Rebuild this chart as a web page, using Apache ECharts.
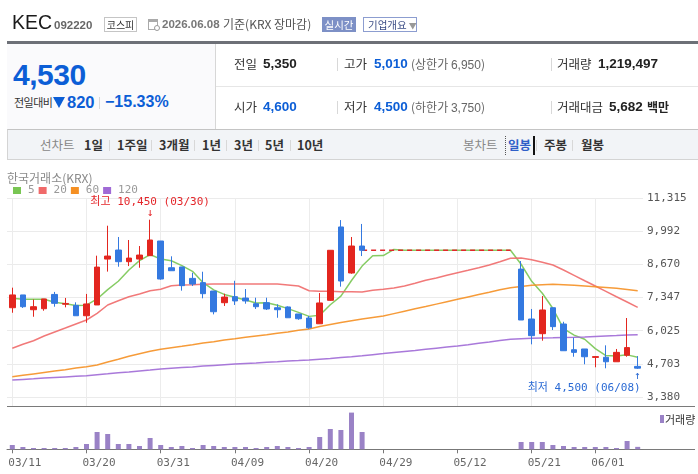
<!DOCTYPE html>
<html><head><meta charset="utf-8">
<script src="https://cdn.jsdelivr.net/npm/echarts@6/dist/echarts.min.js"></script>
<style>
html,body{margin:0;padding:0;background:#fff;}
#wrap{position:relative;width:698px;height:474px;overflow:hidden;font-family:"Noto Sans CJK KR","Noto Sans",sans-serif;color:#333;}
#chart{position:absolute;left:0;top:0;width:698px;height:474px;}
.a{position:absolute;white-space:nowrap;}
.n{font-family:"Liberation Sans",Arial,sans-serif;}
.b{font-weight:bold;}
.blue{color:#0c5ed6;}
.lab{font-size:12.5px;line-height:16px;color:#333;}
.val{font-size:13.5px;line-height:16px;font-weight:bold;color:#222;}
.sub{font-size:12px;line-height:16px;color:#666;}
.vsep{position:absolute;width:1px;background:#d8d8d8;}
.tb{font-size:12.5px;line-height:16px;top:137px;font-weight:bold;color:#333;}
.tbg{font-size:12.5px;line-height:16px;top:137px;color:#888;}
</style></head><body>
<div id="wrap">
<div id="chart"></div>

<!-- header -->
<div class="a n" style="left:12px;top:12px;font-size:19.5px;line-height:20px;color:#1a1a1a;">KEC</div>
<div class="a n b" style="left:54px;top:19px;font-size:11.5px;line-height:12px;color:#666;">092220</div>
<div class="a" style="left:104px;top:17px;width:33px;height:15px;box-sizing:border-box;border:1px solid #c5c5c5;font-size:10px;line-height:13px;text-align:center;color:#333;">코스피</div>
<div class="a" style="left:148px;top:19px;width:10px;height:11px;box-sizing:border-box;border:1px solid #aaa;border-top:3px solid #aaa;"></div>
<div class="a" style="left:154px;top:25px;width:6px;height:6px;box-sizing:border-box;border:1px solid #999;border-radius:50%;background:#fff;"></div>
<div class="a n b" style="left:162px;top:17px;font-size:11.5px;line-height:14px;color:#777;">2026.06.08</div>
<div class="a" style="left:223px;top:16px;font-size:12px;line-height:16px;color:#555;">기준(KRX 장마감)</div>
<div class="a" style="left:322px;top:17px;width:34px;height:15px;background:#7d90c6;color:#fff;font-size:10.5px;line-height:15px;text-align:center;">실시간</div>
<div class="a" style="left:363px;top:17px;width:54px;height:15px;box-sizing:border-box;border:1px solid #8c9dd0;color:#3d4e86;font-size:10.5px;line-height:13px;padding-left:4px;">기업개요<span style="color:#999;font-size:8px;margin-left:2px;">▼</span></div>

<div class="a" style="left:7px;top:41px;width:691px;height:3px;background:#6d7077;"></div>

<!-- left panel -->
<div class="a" style="left:7px;top:44px;width:208px;height:85px;background:#fafafc;border-right:1px solid #d7d7d7;"></div>
<div class="a n b blue" style="left:13px;top:60px;font-size:30px;line-height:30px;letter-spacing:-0.5px;">4,530</div>
<div class="a" style="left:14px;top:95px;font-size:11px;line-height:14px;color:#333;letter-spacing:-0.5px;">전일대비</div>
<div class="a" style="left:53px;top:97px;width:0;height:0;border-left:6.5px solid transparent;border-right:6.5px solid transparent;border-top:11px solid #0c5ed6;"></div>
<div class="a n b blue" style="left:67px;top:93px;font-size:16.5px;line-height:18px;">820</div>
<div class="vsep" style="left:99px;top:97px;height:12px;"></div>
<div class="a n b blue" style="left:105px;top:93px;font-size:16px;line-height:18px;">−15.33%</div>

<!-- table -->
<div class="a" style="left:216px;top:86px;width:482px;height:1px;background:#e6e6e6;"></div>
<div class="a lab" style="left:234px;top:56px;">전일</div>
<div class="a n val" style="left:263px;top:56px;">5,350</div>
<div class="vsep" style="left:337px;top:58px;height:13px;"></div>
<div class="a lab" style="left:344px;top:56px;">고가</div>
<div class="a n val blue" style="left:374px;top:56px;color:#0c5ed6;">5,010</div>
<div class="a sub" style="left:411px;top:56px;">(상한가 <span class="n">6,950</span>)</div>
<div class="vsep" style="left:551px;top:58px;height:13px;"></div>
<div class="a lab" style="left:557px;top:56px;">거래량</div>
<div class="a n val" style="left:598px;top:56px;">1,219,497</div>

<div class="a lab" style="left:234px;top:99px;">시가</div>
<div class="a n val" style="left:263px;top:99px;color:#0c5ed6;">4,600</div>
<div class="vsep" style="left:337px;top:101px;height:13px;"></div>
<div class="a lab" style="left:344px;top:99px;">저가</div>
<div class="a n val" style="left:374px;top:99px;color:#0c5ed6;">4,500</div>
<div class="a sub" style="left:411px;top:99px;">(하한가 <span class="n">3,750</span>)</div>
<div class="vsep" style="left:551px;top:101px;height:13px;"></div>
<div class="a lab" style="left:557px;top:99px;">거래대금</div>
<div class="a n val" style="left:609px;top:99px;">5,682</div>
<div class="a lab" style="left:647px;top:99px;font-weight:bold;color:#222;font-size:12px;">백만</div>

<!-- toolbar -->
<div class="a" style="left:7px;top:129px;width:691px;height:31px;box-sizing:border-box;background:#f2f4f7;border-top:1px solid #c4c4c4;border-bottom:1px solid #d4d4d4;border-left:1px solid #d4d4d4;"></div>
<div class="a tbg" style="left:40px;">선차트</div>
<div class="a tb" style="left:84px;">1일</div>
<div class="vsep" style="left:109px;top:140px;height:11px;"></div>
<div class="a tb" style="left:117px;">1주일</div>
<div class="vsep" style="left:151px;top:140px;height:11px;"></div>
<div class="a tb" style="left:159px;">3개월</div>
<div class="vsep" style="left:194px;top:140px;height:11px;"></div>
<div class="a tb" style="left:202px;">1년</div>
<div class="vsep" style="left:226px;top:140px;height:11px;"></div>
<div class="a tb" style="left:234px;">3년</div>
<div class="vsep" style="left:258px;top:140px;height:11px;"></div>
<div class="a tb" style="left:265px;">5년</div>
<div class="vsep" style="left:290px;top:140px;height:11px;"></div>
<div class="a tb" style="left:297px;">10년</div>

<div class="a tbg" style="left:463px;">봉차트</div>
<div class="a" style="left:505px;top:136px;width:27px;height:19px;border-left:1px dotted #555;border-right:2px solid #111;"></div>
<div class="a tb" style="left:508px;color:#2f5fc8;">일봉</div>
<div class="vsep" style="left:536px;top:140px;height:11px;"></div>
<div class="a tb" style="left:544px;">주봉</div>
<div class="vsep" style="left:572px;top:140px;height:11px;"></div>
<div class="a tb" style="left:581px;">월봉</div>

<!-- chart titles -->
<div class="a" style="left:7px;top:171px;font-size:12px;line-height:14px;color:#8a8a8a;">한국거래소(KRX)</div>
<div class="a" style="left:660px;top:415px;width:3.5px;height:8px;background:#9a82c6;"></div>
<div class="a" style="left:665px;top:412px;font-size:11px;line-height:14px;color:#333;">거래량</div>
</div>

<script>
// ---- data ----
const dates = ['03/11','03/12','03/13','03/16','03/17','03/18','03/19','03/20','03/23','03/24',
 '03/25','03/26','03/27','03/30','03/31','04/01','04/02','04/03','04/06','04/07',
 '04/08','04/09','04/10','04/13','04/14','04/15','04/16','04/17','04/20','04/21',
 '04/22','04/23','04/24','04/27','04/28','04/29','04/30','05/04','05/06','05/07',
 '05/08','05/11','05/12','05/13','05/14','05/15','05/18','05/19','05/20','05/21',
 '05/22','05/26','05/27','05/28','05/29','06/01','06/02','06/04','06/05','06/08'];
const tickDates = ['03/11','03/20','03/31','04/09','04/20','04/29','05/12','05/21','06/01'];
const yTickLabels = ['3,380','4,703','6,025','7,347','8,670','9,992','11,315'];
const N = null;
const opens  = [6940,7450,6860,6900,7470,7080,7035,6620,7050,8880, 9240,8775,8880,9015,9600,8535,8565,8110,7940,7605,
 7140,7380,7325,7100,7140,6940,6970,6690,6530,6300, 7235,10160,8325,9400,N,N,N,N,N,N, N,N,N,N,N,N,N,N,8480,6490,
 5905,6940,6290,5265,5295,4960,4965,4785,5045,4600];
const highs  = [7740,7450,7270,7290,7570,7330,7155,7490,9015,10210, 9760,9640,9400,10450,9600,8990,8565,8335,8375,7605,
 7500,8015,7685,7340,7340,7075,6995,6690,6610,7525, 9230,10435,9760,10280,N,N,N,N,N,N, N,N,N,N,N,N,N,N,8800,6890,
 7405,6940,6380,5745,5295,5015,5440,5295,6530,5010];
const lows   = [6740,6930,6580,6820,6980,6955,6620,6340,7050,8380, 8575,8600,8535,9015,8055,8415,7620,7805,7315,6675,
 7010,7050,7100,6890,6850,6540,6540,6460,6100,6300, 7210,7780,8295,9000,N,N,N,N,N,N, N,N,N,N,N,N,N,N,6450,5480,
 5625,6050,5225,4985,4685,4565,4525,4785,4985,4500];
const closes = [7450,6980,6980,7290,7115,7110,6620,7090,8560,9000, 8775,8920,9040,9640,8085,8415,7820,7885,7500,6780,
 7365,7210,7210,6980,6890,6860,6540,6500,6140,7130, 9230,8005,9400,9230,N,N,N,N,N,N, N,N,N,N,N,N,N,N,6450,5825,
 6850,6185,5225,5160,4985,4990,4785,5160,5350,4530];
const volumes = [2150000,1150000,650000,650000,650000,650000,1150000,2650000,8650000,7650000,
 2650000,2650000,1650000,5650000,2150000,1150000,1650000,650000,2150000,1650000,
 1150000,1150000,1150000,650000,1150000,1650000,1150000,650000,1150000,6150000,
 10150000,9650000,18350000,8650000,N,N,N,N,N,N, N,N,N,N,N,N,N,N,3650000,3650000,
 3650000,2150000,1650000,1150000,1150000,1150000,1150000,650000,4150000,1219497];
const ma5 = [7315,7275,7275,7275,7160,7100,7030,7040,7290,7660, 7995,8445,8820,9060,8880,8815,8620,8390,7940,7650,
 7470,7360,7250,7125,7135,7040,6905,6755,6595,6640, 7060,7405,8025,8600,9015,9019,9264,9230,9230,9230,
 9230,9230,9230,9230,9230,9230,9230,9230,8674,7993, 7517,6907,6106,5849,5681,5310,5030,5018,5060,4969];
const ma20 = [5322,5481,5625,5812,5972,6131,6291,6450,6717,7048, 7220,7379,7487,7618,7674,7818,7845,7857,7873,7885,
 7885,7885,7885,7885,7885,7885,7845,7805,7618,7594, 7594,7578,7574,7566,7641,7674,7726,7806,7913,8033,
 8124,8232,8336,8431,8535,8643,8775,8910,8922,8854, 8750,8643,8443,8232,8017,7805,7594,7379,7168,6956];
const ma60 = [4189,4245,4301,4357,4413,4468,4532,4588,4656,4775, 4883,5003,5106,5202,5282,5346,5401,5465,5533,5585,
 5653,5704,5760,5812,5864,5920,5972,6039,6091,6191, 6271,6350,6422,6490,6550,6609,6705,6801,6897,6988,
 7084,7180,7275,7371,7467,7558,7654,7734,7782,7833, 7853,7873,7853,7833,7806,7778,7746,7714,7666,7618];
const ma120 = [4058,4082,4106,4134,4157,4181,4205,4229,4269,4305, 4345,4381,4421,4456,4496,4524,4552,4580,4613,4640,
 4668,4696,4720,4740,4764,4787,4811,4831,4855,4887, 4919,4955,4987,5023,5067,5110,5154,5198,5238,5282,
 5326,5369,5413,5465,5521,5573,5629,5681,5700,5720, 5732,5740,5752,5760,5776,5796,5812,5828,5848,5864];
const maNames = ['5','20','60','120'];

// ---- derived ----
const num = s => Number(s.replace(/,/g,''));
const yMin = num(yTickLabels[0]), yMax = num(yTickLabels[yTickLabels.length-1]);
const yStep = (yMax - yMin) / (yTickLabels.length - 1);
const isTick = i => tickDates.indexOf(dates[i]) >= 0;
const candleData = dates.map((d,i) => opens[i] == null ? '-' : [opens[i], closes[i], lows[i], highs[i]]);
let last = null;
const haltLine = closes.map((c,i) => {
  if (c == null) return last;
  last = c;
  return (i+1 < closes.length && closes[i+1] == null) ? c : null;
});
let hiIdx = 0, loIdx = 0;
highs.forEach((h,i)=>{ if (h != null && h > highs[hiIdx]) hiIdx = i; });
lows.forEach((l,i)=>{ if (l != null && l < lows[loIdx]) loIdx = i; });
const fmt = v => v.toLocaleString('en-US');

const UP = '#e3261f', DOWN = '#3479e0';
const MONO = '"DejaVu Sans Mono","Noto Sans CJK KR",monospace';
const maColors = ['#79c653','#f06a6a','#f59023','#a06ad6'];
const maData = [ma5, ma20, ma60, ma120];

const chart = echarts.init(document.getElementById('chart'));
const maSeries = maNames.map((nm,k) => ({
  name: nm, type: 'line', xAxisIndex: 0, yAxisIndex: 0, data: maData[k],
  symbol: 'none', showSymbol: false, silent: true, z: 2,
  color: maColors[k], itemStyle: {color: maColors[k]},
  lineStyle: {color: maColors[k], width: 1.5, opacity: 0.9}
}));

chart.setOption({
  animation: false,
  textStyle: {fontFamily: MONO},
  legend: {
    data: maNames, left: 8, top: 180, icon: 'rect', itemWidth: 8, itemHeight: 7, itemGap: 4,
    selectedMode: false,
    textStyle: {color: '#999', fontSize: 11, fontFamily: MONO, width: 14, padding: [0,0,0,2]}
  },
  grid: [
    {left: 7, width: 636, top: 198, height: 199},
    {left: 12.3, width: 625.4, top: 198, height: 208},
    {left: 7, width: 636, top: 406, height: 43.3},
    {left: 8.3, width: 625.4, top: 406, height: 43.3}
  ],
  xAxis: [
    {type: 'category', gridIndex: 0, data: dates, boundaryGap: true,
     axisLine: {show: false}, axisTick: {show: false}, axisLabel: {show: false}, splitLine: {show: false}},
    {type: 'category', gridIndex: 1, data: dates, boundaryGap: false,
     axisLine: {show: false}, axisTick: {show: false}, axisLabel: {show: false},
     splitLine: {show: true, interval: (i) => isTick(i), lineStyle: {color: '#ececec', width: 1}}},
    {type: 'category', gridIndex: 2, data: dates, boundaryGap: true,
     axisLine: {show: true, lineStyle: {color: '#777'}},
     axisTick: {show: true, alignWithLabel: true, interval: (i) => isTick(i), length: 4, lineStyle: {color: '#777'}},
     axisLabel: {show: false}, splitLine: {show: false}},
    {type: 'category', gridIndex: 3, data: dates, boundaryGap: false,
     axisLine: {show: false}, axisTick: {show: false}, splitLine: {show: false},
     axisLabel: {show: true, interval: (i) => isTick(i), align: 'left', margin: 8,
       color: '#666', fontSize: 11, fontFamily: MONO}}
  ],
  yAxis: [
    {type: 'value', gridIndex: 0, min: yMin, max: yMax, interval: yStep, position: 'right',
     axisLine: {show: false}, axisTick: {show: false},
     axisLabel: {show: true, margin: 4, color: '#555', fontSize: 11, fontFamily: MONO,
       formatter: (v, idx) => yTickLabels[Math.round((v - yMin) / yStep)]},
     splitLine: {show: true, lineStyle: {color: '#ebebeb', width: 1}}},
    {type: 'value', gridIndex: 1, min: 0, max: 1, show: false},
    {type: 'value', gridIndex: 2, min: 0, max: 21650000, show: false},
    {type: 'value', gridIndex: 3, min: 0, max: 1, show: false}
  ],
  graphic: [
    {type: 'line', silent: true, shape: {x1: 7, y1: 406.5, x2: 695, y2: 406.5}, style: {stroke: '#7a7a7a', lineWidth: 1}},
    {type: 'line', silent: true, shape: {x1: 7, y1: 449.5, x2: 695, y2: 449.5}, style: {stroke: '#7a7a7a', lineWidth: 1}}
  ],
  series: [
    ...maSeries,
    {type: 'line', xAxisIndex: 0, yAxisIndex: 0, data: haltLine, symbol: 'none', silent: true, z: 2,
     lineStyle: {color: '#e2262a', width: 1.5, type: [5, 4]}},
    {type: 'candlestick', xAxisIndex: 0, yAxisIndex: 0, data: candleData, barWidth: 6, clip: false, z: 3,
     itemStyle: {color: UP, color0: DOWN, borderColor: UP, borderColor0: DOWN, borderWidth: 1},
     markPoint: {
       symbol: 'circle', symbolSize: 1, silent: true, itemStyle: {color: 'rgba(0,0,0,0)'},
       data: [
         {coord: [dates[hiIdx], highs[hiIdx]],
          label: {show: true, position: 'top', distance: 1, align: 'center',
            formatter: '최고 ' + fmt(highs[hiIdx]) + ' (' + dates[hiIdx] + ')\n↓',
            color: '#e4262a', fontSize: 11, lineHeight: 11, fontFamily: MONO}},
         {coord: [dates[loIdx], lows[loIdx]],
          label: {show: true, position: 'bottom', distance: 1, align: 'right', offset: [3, 0],
            formatter: '↑\n최저 ' + fmt(lows[loIdx]) + ' (' + dates[loIdx] + ')',
            color: '#2a6ad4', fontSize: 11, lineHeight: 12, fontFamily: MONO}}
       ]
     }},
    {type: 'bar', xAxisIndex: 2, yAxisIndex: 2, data: volumes, barWidth: 5, silent: true,
     itemStyle: {color: '#9a82c6'}}
  ]
});
</script>
</body></html>
